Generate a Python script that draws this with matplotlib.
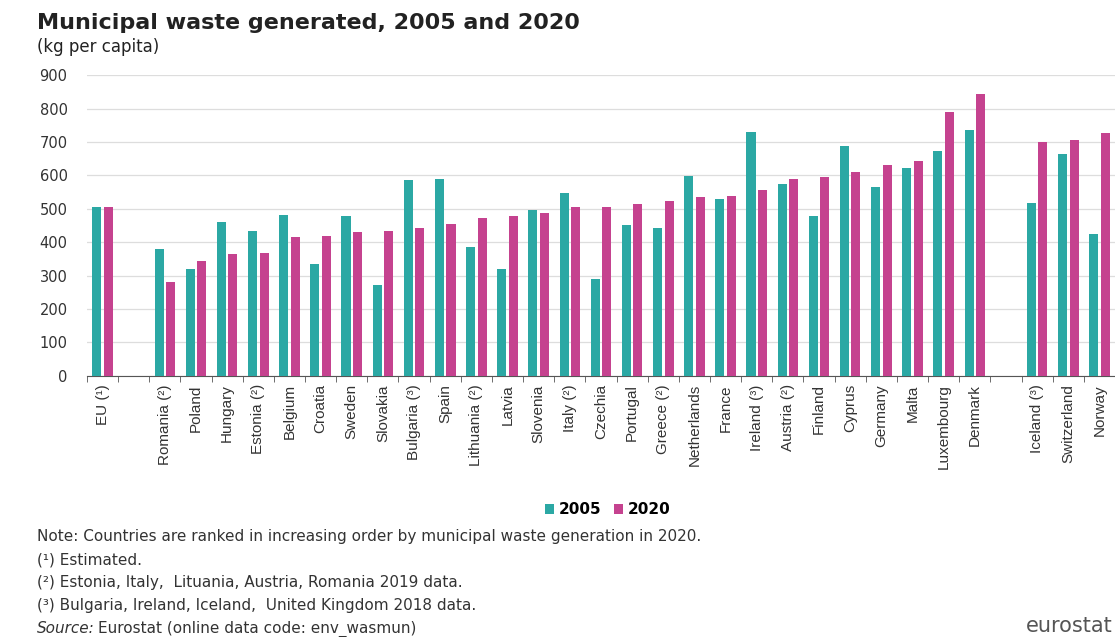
import matplotlib
matplotlib.use("Agg")
from matplotlib import pyplot as plt
import numpy as np

plt.rcParams['font.family'] = ['Liberation Sans', 'DejaVu Sans']
wide = ['DejaVu Sans']

# data (kg per capita); None = empty slot
countries = ['EU (¹)', '', 'Romania (²)', 'Poland', 'Hungary', 'Estonia (²)', 'Belgium',
             'Croatia', 'Sweden', 'Slovakia', 'Bulgaria (³)', 'Spain', 'Lithuania (²)',
             'Latvia', 'Slovenia', 'Italy (²)', 'Czechia', 'Portugal', 'Greece (²)',
             'Netherlands', 'France', 'Ireland (³)', 'Austria (²)', 'Finland', 'Cyprus',
             'Germany', 'Malta', 'Luxembourg', 'Denmark', '', 'Iceland (³)',
             'Switzerland', 'Norway']
v2005 = [505, None, 380, 319, 461, 433, 482, 336, 477, 273, 586, 588, 387, 319, 495,
         546, 289, 452, 442, 599, 529, 731, 575, 478, 688, 565, 623, 672, 736, None,
         516, 663, 426]
v2020 = [505, None, 281, 345, 364, 369, 416, 418, 431, 434, 442, 455, 472, 478, 487,
         504, 505, 513, 524, 535, 538, 555, 588, 596, 609, 632, 643, 790, 845, None,
         700, 706, 726]
years = ['2005', '2020']
notes = ['Note: Countries are ranked in increasing order by municipal waste generation in 2020.',
         '(¹) Estimated.',
         '(²) Estonia, Italy,  Lituania, Austria, Romania 2019 data.',
         '(³) Bulgaria, Ireland, Iceland,  United Kingdom 2018 data.']

teal = '#2ba8a4'
pink = '#c5428f'

fig = plt.figure(figsize=(11.15, 6.37), dpi=100)
ax = fig.add_axes([0.078, 0.41, 0.922, 0.472])

x = np.arange(len(countries))
a = np.array([np.nan if v is None else v for v in v2005], dtype=float)
b = np.array([np.nan if v is None else v for v in v2020], dtype=float)
w = 0.29
ax.bar(x - 0.185, a, w, color=teal, label=years[0], zorder=3)
ax.bar(x + 0.185, b, w, color=pink, label=years[1], zorder=3)

ax.set_xlim(-0.5, len(countries) - 0.5)
ax.set_ylim(0, 900)
ax.set_yticks(range(0, 901, 100))
ax.set_yticklabels([str(v) for v in range(0, 901, 100)], family=wide, fontsize=10.5,
                   color='#333333')
ax.yaxis.grid(True, color='#dddddd', linewidth=0.9, zorder=0)
ax.tick_params(axis='y', length=0, pad=14)
for s in ['top', 'right', 'left']:
    ax.spines[s].set_visible(False)
ax.spines['bottom'].set_color('#555555')

ax.set_xticks(x)
ax.set_xticklabels(countries, rotation=90, fontsize=11, color='#333333')
ax.tick_params(axis='x', length=0, pad=6)
ax.set_xticks(np.arange(-0.5, len(countries), 1), minor=True)
ax.tick_params(axis='x', which='minor', length=4, color='#555555')

fig.text(0.033, 0.955, 'Municipal waste generated, 2005 and 2020', fontsize=16,
         fontweight='bold', color='#222222', family=wide)
fig.text(0.033, 0.918, '(kg per capita)', fontsize=12, color='#222222', family=wide)

fig.legend(loc='center', bbox_to_anchor=(0.545, 0.2), ncol=2, frameon=False,
           handlelength=0.6, handleheight=0.6, handletextpad=0.3, columnspacing=0.8,
           prop={'weight': 'bold', 'size': 11, 'family': wide})

for i, t in enumerate(notes):
    fig.text(0.033, 0.157 - i * 0.036, t, fontsize=11, color='#333333', va='center',
             family=wide)
fig.text(0.033, 0.157 - 4 * 0.036, 'Source:', fontsize=11, style='italic',
         color='#333333', va='center', family=wide)
fig.text(0.088, 0.157 - 4 * 0.036, 'Eurostat (online data code: env_wasmun)',
         fontsize=11, color='#333333', va='center', family=wide)
fig.text(0.998, 0.008, 'eurostat', fontsize=15, color='#555555', ha='right', family=wide)

fig.savefig('out.png', dpi=100)
